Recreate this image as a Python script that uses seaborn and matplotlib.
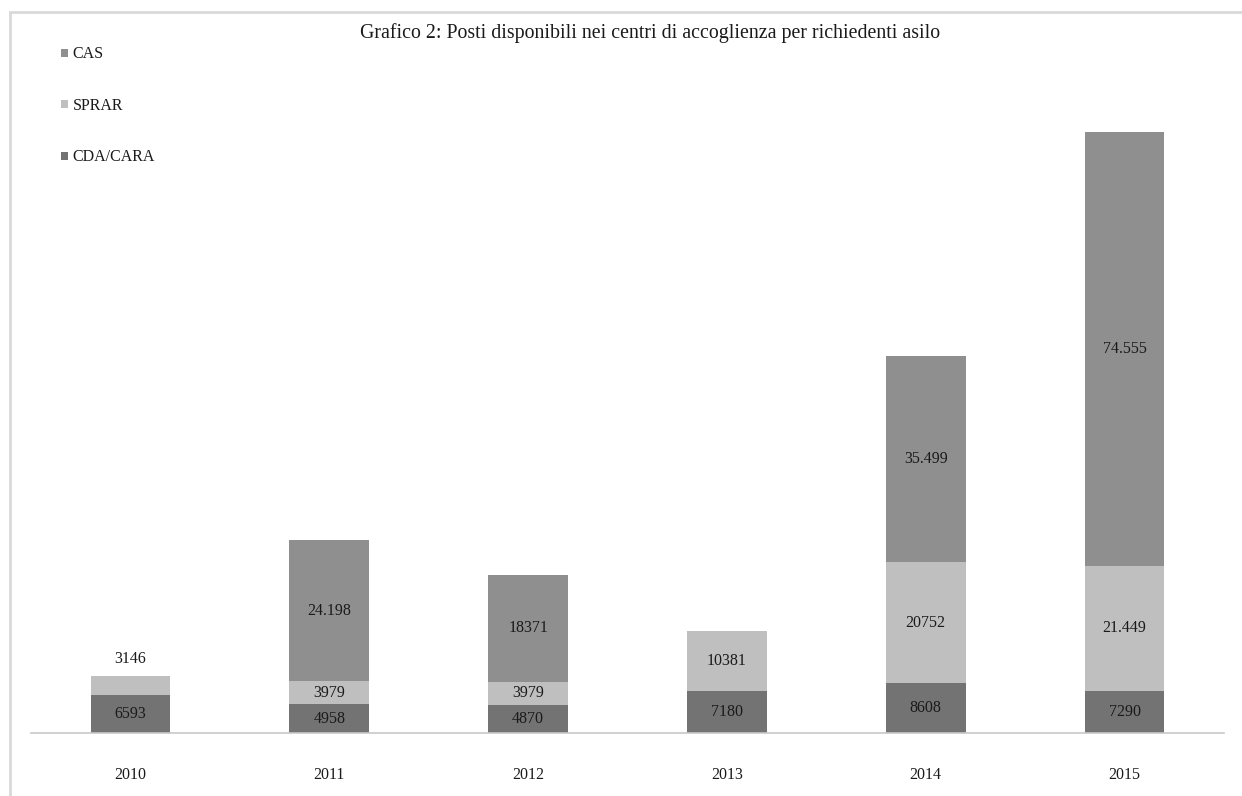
import matplotlib
matplotlib.use("Agg")
import matplotlib.pyplot as plt
import matplotlib.patches as mpatches
import numpy as np
import pandas as pd
import seaborn as sns

# Posti disponibili per anno e tipo di centro
years = ["2010", "2011", "2012", "2013", "2014", "2015"]
cda_cara = [6593, 4958, 4870, 7180, 8608, 7290]
sprar = [3146, 3979, 3979, 10381, 20752, 21449]
cas = [0, 24198, 18371, 0, 35499, 74555]

# Etichette come riportate nel grafico
cda_labels = ["6593", "4958", "4870", "7180", "8608", "7290"]
sprar_labels = ["3146", "3979", "3979", "10381", "20752", "21.449"]
cas_labels = ["", "24.198", "18371", "", "35.499", "74.555"]

series_names = ["CAS", "SPRAR", "CDA/CARA"]
colors = {"CAS": "#8f8f8f", "SPRAR": "#bfbfbf", "CDA/CARA": "#737373"}

sns.set_theme(style="white")
plt.rcParams["font.family"] = ["Liberation Serif", "DejaVu Serif"]

df = pd.DataFrame({"anno": years, "CDA/CARA": cda_cara, "SPRAR": sprar, "CAS": cas})
df["lvl1"] = df["CDA/CARA"]
df["lvl2"] = df["lvl1"] + df["SPRAR"]
df["lvl3"] = df["lvl2"] + df["CAS"]

W, H = 1242, 796
fig = plt.figure(figsize=(W / 100, H / 100), dpi=100)
ax_left, ax_right, ax_bottom, ax_top = 31, 1224, 733, 100
ax = fig.add_axes([ax_left / W, 1 - ax_bottom / H,
                   (ax_right - ax_left) / W, (ax_bottom - ax_top) / H])

# barre sovrapposte: totale cumulato dal livello più alto al più basso
for col, name in [("lvl3", "CAS"), ("lvl2", "SPRAR"), ("lvl1", "CDA/CARA")]:
    sns.barplot(data=df, x="anno", y=col, color=colors[name], width=0.4,
                saturation=1, ax=ax, edgecolor="none", linewidth=0)

ymax = df["lvl3"].max() * (ax_bottom - ax_top) / (ax_bottom - 132)
ax.set_ylim(0, ymax)
ax.set_xlim(-0.5, len(years) - 0.5)

txt_color = "#1a1a1a"
fs = 11.5
for i in range(len(years)):
    b1 = df["lvl1"][i]
    b2 = df["lvl2"][i]
    b3 = df["lvl3"][i]
    ax.text(i, b1 / 2, cda_labels[i], ha="center", va="center", fontsize=fs, color=txt_color)
    if i == 0:
        ax.text(i, b2 + ymax * 0.027, sprar_labels[i], ha="center", va="center",
                fontsize=fs, color=txt_color)
    else:
        ax.text(i, (b1 + b2) / 2, sprar_labels[i], ha="center", va="center",
                fontsize=fs, color=txt_color)
    if cas_labels[i]:
        ax.text(i, (b2 + b3) / 2, cas_labels[i], ha="center", va="center",
                fontsize=fs, color=txt_color)

# assi
for s in ["top", "right", "left"]:
    ax.spines[s].set_visible(False)
ax.spines["bottom"].set_color("#c8c8c8")
ax.spines["bottom"].set_linewidth(1.2)
ax.set_yticks([])
ax.set_xlabel("")
ax.set_ylabel("")
ax.set_xticks(range(len(years)))
ax.set_xticklabels(years, fontsize=fs, color=txt_color)
ax.tick_params(axis="x", which="major", length=0, pad=24.5)
ax.set_xticks(np.arange(-0.5, len(years)), minor=True)
ax.tick_params(axis="x", which="minor", length=4, color="#c8c8c8", width=1.2, direction="out")

# titolo
fig.text(650 / W, 1 - 33 / H,
         "Grafico 2: Posti disponibili nei centri di accoglienza per richiedenti asilo",
         ha="center", va="center", fontsize=14.3, color=txt_color)

# legenda
handles = [mpatches.Patch(facecolor=colors[n], edgecolor="none", label=n) for n in series_names]
fig.legend(handles=handles, loc="upper left", bbox_to_anchor=(47 / W, 1 - 32 / H),
           frameon=False, handlelength=0.4, handleheight=0.4, handletextpad=0.3,
           labelspacing=2.22, fontsize=fs, labelcolor=txt_color)

# cornice esterna
frame = mpatches.Rectangle((10 / W, -0.1), 1.2, 1 - 12 / H + 0.1, transform=fig.transFigure,
                           fill=False, edgecolor="#d9d9d9", linewidth=2, clip_on=False)
fig.patches.append(frame)

fig.savefig("out.png", dpi=100, facecolor="white")
